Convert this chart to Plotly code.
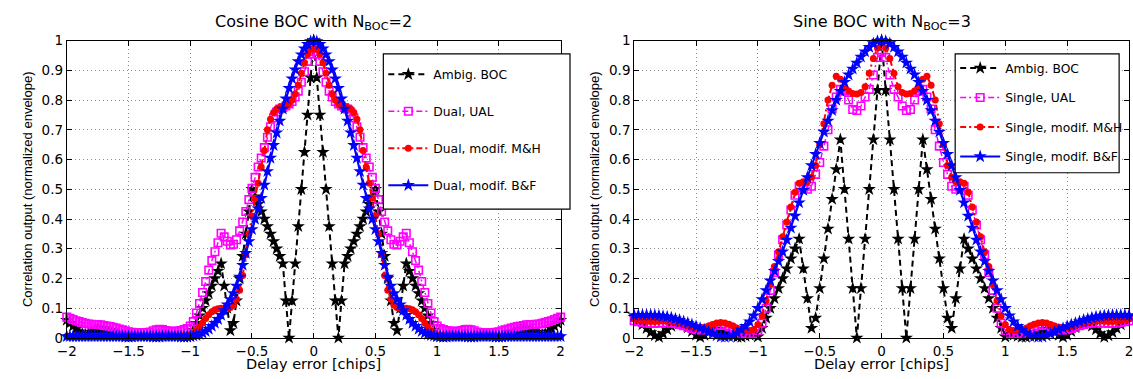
import numpy as np
import plotly.graph_objects as go

# ---------------- data ----------------
# delay grids (chips)
DELAY_LEFT = np.linspace(-2.0, 2.0, 161)    # step 0.025
DELAY_RIGHT = np.linspace(-2.0, 2.0, 121)   # step 1/30

# Cosine BOC, N_BOC = 2
AMBIG_COS = [
    0.060,0.050,0.040,0.030,0.021,0.014,0.010,0.014,0.020,0.025,
    0.029,0.031,0.031,0.029,0.026,0.021,0.016,0.011,0.007,0.004,
    0.003,0.004,0.006,0.008,0.009,0.009,0.008,0.006,0.004,0.003,
    0.004,0.006,0.008,0.009,0.009,0.008,0.006,0.004,0.003,0.004,
    0.005,0.025,0.050,0.075,0.100,0.125,0.150,0.175,0.200,0.225,
    0.250,0.175,0.100,0.025,0.050,0.125,0.200,0.275,0.350,0.425,
    0.500,0.475,0.450,0.425,0.400,0.375,0.350,0.325,0.300,0.275,
    0.250,0.125,0.000,0.125,0.250,0.375,0.500,0.625,0.750,0.875,
    1.000,
    0.875,0.750,0.625,0.500,0.375,0.250,0.125,0.000,0.125,0.250,
    0.275,0.300,0.325,0.350,0.375,0.400,0.425,0.450,0.475,0.500,
    0.425,0.350,0.275,0.200,0.125,0.050,0.025,0.100,0.175,0.250,
    0.225,0.200,0.175,0.150,0.125,0.100,0.075,0.050,0.025,0.005,
    0.004,0.003,0.004,0.006,0.008,0.009,0.009,0.008,0.006,0.004,
    0.003,0.004,0.006,0.008,0.009,0.009,0.008,0.006,0.004,0.003,
    0.004,0.007,0.011,0.016,0.021,0.026,0.029,0.031,0.031,0.029,
    0.025,0.020,0.014,0.010,0.014,0.021,0.030,0.040,0.050,0.060,
]
DUAL_UAL = [
    0.070,0.066,0.062,0.058,0.055,0.052,0.049,0.047,0.046,0.045,
    0.045,0.044,0.042,0.040,0.038,0.036,0.033,0.030,0.027,0.024,
    0.021,0.019,0.018,0.017,0.017,0.017,0.018,0.020,0.024,0.027,
    0.029,0.028,0.025,0.023,0.022,0.022,0.023,0.025,0.028,0.032,
    0.040,0.055,0.084,0.116,0.153,0.190,0.228,0.260,0.290,0.320,
    0.352,0.340,0.325,0.313,0.315,0.330,0.360,0.390,0.425,0.465,
    0.503,0.540,0.575,0.605,0.640,0.675,0.710,0.740,0.760,0.770,
    0.775,0.780,0.787,0.795,0.810,0.830,0.860,0.895,0.930,0.955,
    0.963,
    0.955,0.930,0.895,0.860,0.830,0.810,0.795,0.787,0.780,0.775,
    0.770,0.760,0.740,0.710,0.675,0.640,0.605,0.575,0.540,0.503,
    0.465,0.425,0.390,0.360,0.330,0.315,0.313,0.325,0.340,0.352,
    0.320,0.290,0.260,0.228,0.190,0.153,0.116,0.084,0.055,0.040,
    0.032,0.028,0.025,0.023,0.022,0.022,0.023,0.025,0.028,0.029,
    0.027,0.024,0.020,0.018,0.017,0.017,0.017,0.018,0.019,0.021,
    0.024,0.027,0.030,0.033,0.036,0.038,0.040,0.042,0.044,0.045,
    0.045,0.046,0.047,0.049,0.052,0.055,0.058,0.062,0.066,0.070,
]
DUAL_MH = [
    0.006,0.006,0.006,0.005,0.005,0.005,0.005,0.005,0.006,0.006,
    0.006,0.006,0.006,0.005,0.005,0.005,0.005,0.005,0.005,0.005,
    0.005,0.005,0.005,0.005,0.005,0.005,0.005,0.005,0.006,0.006,
    0.006,0.006,0.006,0.006,0.006,0.006,0.006,0.007,0.007,0.008,
    0.010,0.015,0.024,0.036,0.050,0.065,0.078,0.088,0.095,0.098,
    0.100,0.100,0.100,0.102,0.110,0.130,0.160,0.210,0.280,0.350,
    0.410,0.470,0.520,0.575,0.630,0.700,0.735,0.758,0.770,0.775,
    0.778,0.780,0.787,0.800,0.820,0.850,0.890,0.925,0.955,0.970,
    0.975,
    0.970,0.955,0.925,0.890,0.850,0.820,0.800,0.787,0.780,0.778,
    0.775,0.770,0.758,0.735,0.700,0.630,0.575,0.520,0.470,0.410,
    0.350,0.280,0.210,0.160,0.130,0.110,0.102,0.100,0.100,0.100,
    0.098,0.095,0.088,0.078,0.065,0.050,0.036,0.024,0.015,0.010,
    0.008,0.007,0.007,0.006,0.006,0.006,0.006,0.006,0.006,0.006,
    0.006,0.005,0.005,0.005,0.005,0.005,0.005,0.005,0.005,0.005,
    0.005,0.005,0.005,0.005,0.005,0.005,0.005,0.006,0.006,0.006,
    0.006,0.006,0.006,0.005,0.005,0.005,0.005,0.005,0.006,0.006,
]
DUAL_BF = [
    0.005,0.005,0.005,0.005,0.005,0.005,0.005,0.005,0.005,0.005,
    0.005,0.005,0.005,0.005,0.005,0.005,0.005,0.005,0.005,0.005,
    0.005,0.005,0.005,0.005,0.005,0.005,0.005,0.005,0.005,0.005,
    0.005,0.005,0.005,0.005,0.005,0.005,0.005,0.005,0.005,0.006,
    0.006,0.007,0.009,0.012,0.016,0.022,0.030,0.040,0.050,0.063,
    0.077,0.093,0.112,0.130,0.150,0.175,0.205,0.245,0.285,0.325,
    0.365,0.400,0.435,0.470,0.515,0.560,0.605,0.648,0.690,0.730,
    0.770,0.805,0.840,0.872,0.902,0.930,0.953,0.973,0.988,0.997,
    1.000,
    0.997,0.988,0.973,0.953,0.930,0.902,0.872,0.840,0.805,0.770,
    0.730,0.690,0.648,0.605,0.560,0.515,0.470,0.435,0.400,0.365,
    0.325,0.285,0.245,0.205,0.175,0.150,0.130,0.112,0.093,0.077,
    0.063,0.050,0.040,0.030,0.022,0.016,0.012,0.009,0.007,0.006,
    0.006,0.005,0.005,0.005,0.005,0.005,0.005,0.005,0.005,0.005,
    0.005,0.005,0.005,0.005,0.005,0.005,0.005,0.005,0.005,0.005,
    0.005,0.005,0.005,0.005,0.005,0.005,0.005,0.005,0.005,0.005,
    0.005,0.005,0.005,0.005,0.005,0.005,0.005,0.005,0.005,0.005,
]

# Sine BOC, N_BOC = 3
AMBIG_SIN = [
    0.070,0.058,0.045,0.032,0.019,0.008,0.003,0.015,0.028,0.040,
    0.047,0.049,0.045,0.035,0.022,0.010,0.003,0.010,0.019,0.026,
    0.030,0.028,0.021,0.013,0.006,0.003,0.003,0.006,0.010,0.014,
    0.004,0.033,0.067,0.100,0.133,0.167,0.200,0.233,0.267,0.300,
    0.333,0.233,0.133,0.033,0.067,0.167,0.267,0.367,0.467,0.567,
    0.667,0.500,0.333,0.167,0.000,0.167,0.333,0.500,0.667,0.833,
    1.000,
    0.833,0.667,0.500,0.333,0.167,0.000,0.167,0.333,0.500,0.667,
    0.567,0.467,0.367,0.267,0.167,0.067,0.033,0.133,0.233,0.333,
    0.300,0.267,0.233,0.200,0.167,0.133,0.100,0.067,0.033,0.004,
    0.014,0.010,0.006,0.003,0.003,0.006,0.013,0.021,0.028,0.030,
    0.026,0.019,0.010,0.003,0.010,0.022,0.035,0.045,0.049,0.047,
    0.040,0.028,0.015,0.003,0.008,0.019,0.032,0.045,0.058,0.070,
]
SINGLE_UAL = [
    0.058,0.055,0.052,0.050,0.049,0.049,0.050,0.051,0.051,0.050,
    0.048,0.045,0.041,0.036,0.032,0.028,0.027,0.028,0.032,0.037,
    0.042,0.044,0.042,0.037,0.030,0.022,0.016,0.012,0.012,0.015,
    0.025,0.050,0.100,0.160,0.220,0.280,0.330,0.380,0.430,0.480,
    0.510,0.505,0.500,0.510,0.550,0.590,0.645,0.700,0.770,0.810,
    0.836,0.830,0.800,0.768,0.765,0.780,0.810,0.836,0.884,0.943,
    0.960,
    0.943,0.884,0.836,0.810,0.780,0.765,0.768,0.800,0.830,0.836,
    0.810,0.770,0.700,0.645,0.590,0.550,0.510,0.500,0.505,0.510,
    0.480,0.430,0.380,0.330,0.280,0.220,0.160,0.100,0.050,0.025,
    0.015,0.012,0.012,0.016,0.022,0.030,0.037,0.042,0.044,0.042,
    0.037,0.032,0.028,0.027,0.028,0.032,0.036,0.041,0.045,0.048,
    0.050,0.051,0.051,0.050,0.049,0.049,0.050,0.052,0.055,0.058,
]
SINGLE_MH = [
    0.064,0.061,0.058,0.056,0.055,0.055,0.056,0.057,0.057,0.056,
    0.054,0.051,0.047,0.042,0.038,0.035,0.034,0.036,0.040,0.045,
    0.050,0.052,0.050,0.046,0.040,0.033,0.028,0.025,0.025,0.028,
    0.045,0.075,0.125,0.180,0.240,0.290,0.340,0.390,0.440,0.490,
    0.520,0.525,0.525,0.540,0.580,0.650,0.720,0.800,0.850,0.880,
    0.870,0.845,0.830,0.822,0.820,0.825,0.845,0.890,0.940,0.975,
    0.995,
    0.975,0.940,0.890,0.845,0.825,0.820,0.822,0.830,0.845,0.870,
    0.880,0.850,0.800,0.720,0.650,0.580,0.540,0.525,0.525,0.520,
    0.490,0.440,0.390,0.340,0.290,0.240,0.180,0.125,0.075,0.045,
    0.028,0.025,0.025,0.028,0.033,0.040,0.046,0.050,0.052,0.050,
    0.045,0.040,0.036,0.034,0.035,0.038,0.042,0.047,0.051,0.054,
    0.056,0.057,0.057,0.056,0.055,0.055,0.056,0.058,0.061,0.064,
]
SINGLE_BF = [
    0.076,0.077,0.077,0.077,0.077,0.076,0.075,0.073,0.071,0.068,
    0.064,0.060,0.055,0.050,0.045,0.039,0.033,0.027,0.020,0.014,
    0.008,0.004,0.003,0.005,0.010,0.017,0.027,0.040,0.055,0.075,
    0.100,0.130,0.160,0.193,0.225,0.258,0.290,0.330,0.370,0.410,
    0.455,0.497,0.540,0.580,0.618,0.655,0.693,0.730,0.765,0.800,
    0.830,0.860,0.885,0.905,0.925,0.945,0.963,0.978,0.990,0.998,
    1.000,
    0.998,0.990,0.978,0.963,0.945,0.925,0.905,0.885,0.860,0.830,
    0.800,0.765,0.730,0.693,0.655,0.618,0.580,0.540,0.497,0.455,
    0.410,0.370,0.330,0.290,0.258,0.225,0.193,0.160,0.130,0.100,
    0.075,0.055,0.040,0.027,0.017,0.010,0.005,0.003,0.004,0.008,
    0.014,0.020,0.027,0.033,0.039,0.045,0.050,0.055,0.060,0.064,
    0.068,0.071,0.073,0.075,0.076,0.077,0.077,0.077,0.077,0.076,
]

LEFT_NAMES = ["Ambig. BOC", "Dual, UAL", "Dual, modif. M&H", "Dual, modif. B&F"]
RIGHT_NAMES = ["Ambig. BOC", "Single, UAL", "Single, modif. M&H", "Single, modif. B&F"]
LEFT_TITLE = "Cosine BOC with N<sub>BOC</sub>=2"
RIGHT_TITLE = "Sine BOC with N<sub>BOC</sub>=3"
X_TITLE = "Delay error [chips]"
Y_TITLE = "Correlation output (normalized envelope)"

for arr in (AMBIG_COS, DUAL_UAL, DUAL_MH, DUAL_BF):
    assert len(arr) == len(DELAY_LEFT), len(arr)
for arr in (AMBIG_SIN, SINGLE_UAL, SINGLE_MH, SINGLE_BF):
    assert len(arr) == len(DELAY_RIGHT), len(arr)

# ---------------- styles ----------------
STYLES = [
    dict(line=dict(color="black", width=2, dash="6px,4px"),
         marker=dict(symbol="star", size=10, color="black", line=dict(width=0))),
    dict(line=dict(color="#ff00ff", width=1.5, dash="6px,3px,2px,3px"),
         marker=dict(symbol="square-open", size=7.5, color="#ff00ff", line=dict(width=1.6))),
    dict(line=dict(color="#ff0000", width=2, dash="6px,3px,2px,3px"),
         marker=dict(symbol="circle", size=7, color="#ff0000", line=dict(width=0))),
    dict(line=dict(color="#0000ff", width=2),
         marker=dict(symbol="star", size=10, color="#0000ff", line=dict(width=0))),
]

fig = go.Figure()
for i, (ys, name) in enumerate(zip((AMBIG_COS, DUAL_UAL, DUAL_MH, DUAL_BF), LEFT_NAMES)):
    fig.add_trace(go.Scatter(x=DELAY_LEFT, y=ys, name=name, mode="lines+markers",
                             xaxis="x", yaxis="y", legend="legend",
                             legendgroup="L%d" % i, cliponaxis=False, **STYLES[i]))
for i, (ys, name) in enumerate(zip((AMBIG_SIN, SINGLE_UAL, SINGLE_MH, SINGLE_BF), RIGHT_NAMES)):
    fig.add_trace(go.Scatter(x=DELAY_RIGHT, y=ys, name=name, mode="lines+markers",
                             xaxis="x2", yaxis="y2", legend="legend2",
                             legendgroup="R%d" % i, cliponaxis=False, **STYLES[i]))

W, H = 1133, 379
FONT = "DejaVu Sans, Verdana, sans-serif"
FONT_NARROW = "Liberation Sans, Arial, sans-serif"
ax_common = dict(showline=True, linecolor="black", linewidth=1, mirror="ticks",
                 ticks="inside", ticklen=5, tickcolor="black", showgrid=True,
                 gridcolor="#8a8a8a", griddash="1px,3px", gridwidth=1, zeroline=False,
                 ticklabeloverflow="allow",
                 tickfont=dict(size=13.5, family=FONT, color="black"))
xdom_l = [57.5 / W, 557.5 / W]
xdom_r = [632.0 / W, 1.0]
ydom = [1 - 344.5 / H, 1 - 34.0 / H]
ymid = (ydom[0] + ydom[1]) / 2

legend_common = dict(xanchor="left", yanchor="top", bgcolor="rgba(0,0,0,0)",
                     borderwidth=0, font=dict(size=12.3, family=FONT, color="black"),
                     itemwidth=40)

fig.update_layout(
    width=W, height=H, margin=dict(l=0, r=0, t=0, b=0),
    paper_bgcolor="white", plot_bgcolor="white",
    font=dict(family=FONT, size=14, color="black"),
    xaxis=dict(domain=xdom_l, range=[-2, 2], dtick=0.5, anchor="y",
               ticklabelstandoff=1, **ax_common),
    yaxis=dict(domain=ydom, range=[0, 1], dtick=0.1, anchor="x", **ax_common),
    xaxis2=dict(domain=xdom_r, range=[-2, 2], dtick=0.5, anchor="y2",
                ticklabelstandoff=1, **ax_common),
    yaxis2=dict(domain=ydom, range=[0, 1], dtick=0.1, anchor="x2", **ax_common),
    legend=dict(x=378 / W, y=1 - 54 / H, tracegroupgap=18, **legend_common),
    legend2=dict(x=957 / W, y=1 - 47.5 / H, tracegroupgap=10.5, **legend_common),
    shapes=[
        dict(type="rect", xref="paper", yref="paper", layer="above",
             x0=378 / W, x1=567 / W, y0=1 - 210 / H, y1=1 - 48 / H,
             fillcolor="white", line=dict(color="black", width=1.2)),
        dict(type="rect", xref="paper", yref="paper", layer="above",
             x0=957 / W, x1=1123 / W, y0=1 - 172 / H, y1=1 - 48 / H,
             fillcolor="white", line=dict(color="black", width=1.2)),
    ],
    annotations=[
        dict(text=LEFT_TITLE, x=(xdom_l[0] + xdom_l[1]) / 2, y=1 - 2 / H, xref="paper", yref="paper",
             xanchor="center", yanchor="top", showarrow=False, font=dict(size=16, family=FONT)),
        dict(text=RIGHT_TITLE, x=882.5 / W, y=1 - 2 / H, xref="paper", yref="paper",
             xanchor="center", yanchor="top", showarrow=False, font=dict(size=16, family=FONT)),
        dict(text=X_TITLE, x=(xdom_l[0] + xdom_l[1]) / 2, y=1 - 371.5 / H, xref="paper", yref="paper",
             xanchor="center", yanchor="middle", showarrow=False, font=dict(size=14.5, family=FONT)),
        dict(text=X_TITLE, x=882.5 / W, y=1 - 371.5 / H, xref="paper", yref="paper",
             xanchor="center", yanchor="middle", showarrow=False, font=dict(size=14.5, family=FONT)),
        dict(text=Y_TITLE, x=17 / W, y=ymid, xref="paper", yref="paper", textangle=-90,
             xanchor="center", yanchor="middle", showarrow=False, font=dict(size=13, family=FONT_NARROW)),
        dict(text=Y_TITLE, x=592 / W, y=ymid, xref="paper", yref="paper", textangle=-90,
             xanchor="center", yanchor="middle", showarrow=False, font=dict(size=13, family=FONT_NARROW)),
    ],
)

fig.write_html("out.html")
